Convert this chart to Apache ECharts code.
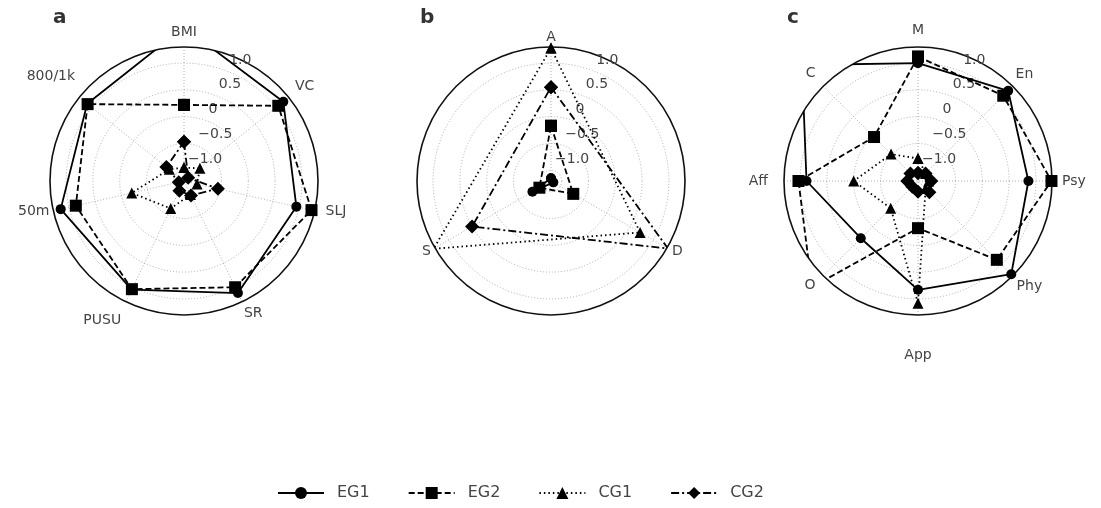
<!DOCTYPE html>
<html>
<head>
<meta charset="utf-8">
<script src="https://cdn.jsdelivr.net/npm/echarts@6/dist/echarts.min.js"></script>
<style>
  html, body { margin: 0; padding: 0; background: #fff; }
  #chart { width: 1101px; height: 508px; }
</style>
</head>
<body>
<div id="chart"></div>
<script>
// Panel a: physical fitness items
const catsA = ['BMI', 'VC', 'SLJ', 'SR', 'PUSU', '50m', '800/1k'];
const eg1A = [1.67, 1.17, 0.95, 1.12, 1.05, 1.16, 1.11];
const eg2A = [0.22, 1.05, 1.24, 1.00, 1.04, 0.87, 1.10];
const cg1A = [-0.95, -0.82, -0.95, -0.92, -0.63, -0.20, -0.85];
const cg2A = [-0.47, -1.10, -0.55, -0.90, -1.00, -1.10, -0.78];

// Panel b
const catsB = ['A', 'D', 'S'];
const eg1B = [-1.15, -1.15, -0.80];
const eg2B = [-0.17, -0.72, -0.95];
const cg1B = [1.28, 0.72, 1.33];
const cg2B = [0.55, 1.32, 0.50];

// Panel c
const catsC = ['M', 'En', 'Psy', 'Phy', 'App', 'O', 'Aff', 'C'];
const eg1C = [1.00, 1.18, 0.86, 1.26, 0.83, 0.31, 0.88, 1.86];
const eg2C = [1.12, 1.05, 1.29, 0.88, -0.32, 1.60, 1.03, -0.04];
const cg1C = [-0.78, -1.00, -1.00, -1.00, 1.08, -0.48, 0.00, -0.49];
const cg2C = [-1.05, -1.00, -0.95, -0.90, -1.00, -1.05, -1.00, -1.00];

const radialTicks = [-1.0, -0.5, 0, 0.5, 1.0];
const groupNames = ['EG1', 'EG2', 'CG1', 'CG2'];
const panelLetters = ['a', 'b', 'c'];

const R_MIN = -1.2, R_MAX = 1.3;
const FONT = 'DejaVu Sans';
const TXT = '#444';
const RADIUS = 134;

// per-category label padding [top, right, bottom, left] around the rim
const panels = [
  {
    cats: catsA, groups: [eg1A, eg2A, cg1A, cg2A], center: [184, 181], margin: 4,
    pads: [[0, 0, 4, 0], [0, 0, 2, 3], [0, 0, 0, 7], [1, 0, 0, 0], [8, 3, 0, 0], [0, 0, 0, 0], [0, 1, 12, 0]]
  },
  {
    cats: catsB, groups: [eg1B, eg2B, cg1B, cg2B], center: [551, 181], margin: -8,
    pads: [[0, 0, 11, 0], [0, 0, 0, 12], [0, 11, 0, 0]]
  },
  {
    cats: catsC, groups: [eg1C, eg2C, cg1C, cg2C], center: [918, 181], margin: 4,
    pads: [[0, 0, 6, 0], [0, 0, 2, 0], [0, 0, 0, 6], [1, 0, 0, 1], [29, 0, 0, 0], [0, 5, 0, 0], [0, 12, 0, 0], [0, 5, 3, 0]]
  }
];

const styles = [
  { symbol: 'circle', size: 10, type: 'solid' },
  { symbol: 'rect', size: 12, type: [6, 3] },
  { symbol: 'triangle', size: 11, type: [1.5, 3] },
  { symbol: 'diamond', size: 14, type: [8, 3, 2, 3] }
];

// tick text uses a true minus sign
const fmtTick = v => (v === 0 ? '0' : v.toFixed(1).replace('-', '\u2212'));

const polar = [], angleAxis = [], radiusAxis = [], series = [], title = [];

panels.forEach((p, i) => {
  const n = p.cats.length;
  const main = 2 * i, over = 2 * i + 1;
  polar.push({ center: p.center, radius: RADIUS });
  polar.push({ center: p.center, radius: RADIUS });

  const rich = {};
  p.pads.forEach((pad, k) => {
    rich['t' + k] = { padding: pad, fontSize: 14, fontFamily: FONT, color: TXT };
  });

  // angular axis: one step per category, clockwise from the top
  angleAxis.push({
    polarIndex: main, type: 'value', min: 0, max: n, interval: 1,
    startAngle: 90, clockwise: true,
    axisLine: { show: true, lineStyle: { color: '#111', width: 1.6 } },
    axisTick: { show: false },
    splitLine: { show: true, lineStyle: { color: '#9a9a9a', width: 0.8, type: [1, 2] } },
    axisLabel: {
      margin: p.margin, fontSize: 14, color: TXT, fontFamily: FONT, rich: rich,
      formatter: v => (v < n ? '{t' + v + '|' + p.cats[v] + '}' : '')
    }
  });
  radiusAxis.push({
    polarIndex: main, type: 'value', min: R_MIN, max: R_MAX,
    axisLine: { show: false },
    axisTick: { show: false, customValues: radialTicks },
    axisLabel: { show: false },
    splitLine: { show: true, lineStyle: { color: '#9a9a9a', width: 0.8, type: [1, 2] } }
  });

  // overlay axis carrying the radial tick labels at 22.5 deg
  angleAxis.push({
    polarIndex: over, type: 'value', min: 0, max: 360, startAngle: 67.5,
    clockwise: true, show: false
  });
  radiusAxis.push({
    polarIndex: over, type: 'value', min: R_MIN, max: R_MAX,
    axisLine: { show: false },
    axisTick: { show: false, customValues: radialTicks },
    splitLine: { show: false },
    axisLabel: {
      customValues: radialTicks, formatter: fmtTick, margin: 0,
      rotate: 0, align: 'left', verticalAlign: 'bottom', padding: [0, 0, 5, 0],
      fontSize: 14, color: TXT, fontFamily: FONT
    }
  });

  p.groups.forEach((vals, g) => {
    const st = styles[g];
    const data = vals.map((v, k) => [v, k]);
    data.push([vals[0], n]);
    series.push({
      name: groupNames[g], type: 'line', coordinateSystem: 'polar',
      polarIndex: main, data: data, clip: true,
      symbol: st.symbol, symbolSize: st.size, showSymbol: true,
      itemStyle: { color: '#000' },
      lineStyle: { color: '#000', width: 1.8, type: st.type },
      z: 3 + g
    });
  });

  title.push({
    text: panelLetters[i], left: p.center[0] - 136, top: 3,
    textStyle: { fontSize: 20, fontWeight: 'bold', color: '#333', fontFamily: FONT }
  });
});

const chart = echarts.init(document.getElementById('chart'), null, { renderer: 'canvas' });
chart.setOption({
  animation: false,
  backgroundColor: '#fff',
  title: title,
  legend: {
    data: groupNames, left: 272, top: 480,
    itemWidth: 46, itemHeight: 15, itemGap: 38,
    textStyle: { fontSize: 16, color: TXT, fontFamily: FONT, padding: [0, 0, 0, 8] }
  },
  polar: polar,
  angleAxis: angleAxis,
  radiusAxis: radiusAxis,
  series: series
});
</script>
</body>
</html>
